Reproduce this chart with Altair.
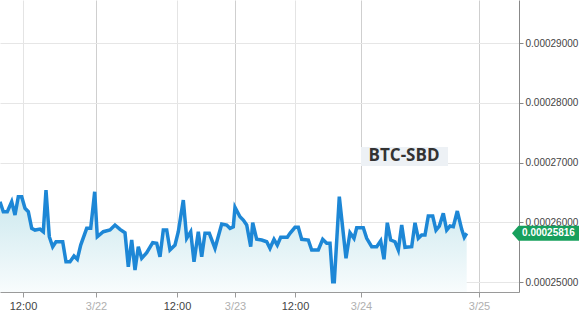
import altair as alt
import pandas as pd

# time position (chart index units) and BTC-SBD price
t = [0, 3.3, 7.3, 11.7, 15, 18.3, 21.7, 25, 28.3, 31.7, 35, 40, 43.3, 46, 49.3, 52.7, 56, 62.7, 66, 70,
     74, 77.3, 80.7, 86.7, 90.7, 94.7, 97.3, 103.3, 110, 115, 120, 125, 128.3, 131.7, 135, 138.3, 141.7, 146.7, 152.7, 156.7,
     160, 163.3, 166.7, 170, 175, 178.3, 183.3, 186.7, 190.7, 194, 198.3, 201.7, 205, 209.3, 215, 221.7, 226.7, 230, 233.3, 235,
     240, 243.3, 246.7, 250.7, 252.7, 256.7, 261.7, 266.7, 270, 274, 277.3, 280.7, 287.3, 290, 295, 298.3, 301.7, 308.3, 311.7, 318.3,
     322.7, 326.7, 330, 332.7, 334.3, 339.3, 346, 350, 354, 356.7, 363.3, 366.7, 371.7, 376.7, 380.7, 384, 387.3, 390.7, 395, 398.3,
     401.7, 405, 411.7, 415, 418.3, 421.7, 425, 428.3, 432.7, 436, 439.3, 443.3, 446.7, 450, 453.3, 457.3, 461.7, 464.3, 466.7]
price = [0.00026344, 0.00026177, 0.00026177, 0.00026344, 0.00026121, 0.00026428, 0.00026428, 0.00026233, 0.00026177, 0.00025899,
         0.00025870, 0.00025887, 0.00025842, 0.00026540, 0.00025758, 0.00025591, 0.00025674, 0.00025674, 0.00025340, 0.00025340,
         0.00025435, 0.00025380, 0.00025619, 0.00025899, 0.00025899, 0.00026511, 0.00025758, 0.00025842, 0.00025870, 0.00025954,
         0.00025882, 0.00025825, 0.00025256, 0.00025703, 0.00025201, 0.00025591, 0.00025397, 0.00025490, 0.00025658, 0.00025648,
         0.00025423, 0.00025870, 0.00025870, 0.00025536, 0.00025619, 0.00025842, 0.00026372, 0.00025731, 0.00025842, 0.00025340,
         0.00025842, 0.00025423, 0.00025815, 0.00025815, 0.00025564, 0.00025971, 0.00025954, 0.00025899, 0.00025925, 0.00026250,
         0.00026093, 0.00026038, 0.00025954, 0.00025591, 0.00025992, 0.00025715, 0.00025703, 0.00025674, 0.00025564, 0.00025715,
         0.00025619, 0.00025748, 0.00025748, 0.00025815, 0.00025915, 0.00025915, 0.00025715, 0.00025703, 0.00025536, 0.00025536,
         0.00025715, 0.00025648, 0.00025648, 0.00025005, 0.00025005, 0.00026428, 0.00025397, 0.00025825, 0.00025731, 0.00025909,
         0.00025909, 0.00025731, 0.00025591, 0.00025591, 0.00025691, 0.00025380, 0.00025992, 0.00025703, 0.00025674, 0.00025536,
         0.00025954, 0.00025581, 0.00025591, 0.00025992, 0.00025731, 0.00025787, 0.00025787, 0.00026105, 0.00026105, 0.00025870,
         0.00025937, 0.00026150, 0.00025870, 0.00025937, 0.00025925, 0.00026188, 0.00025882, 0.00025748, 0.00025816]

x_ticks = [23, 96, 177, 235, 295, 361, 479]
x_labels = ["12:00", "3/22", "12:00", "3/23", "12:00", "3/24", "3/25"]
date_ticks = [96, 235, 361, 479]
y_ticks = [0.00025, 0.00026, 0.00027, 0.00028, 0.00029]
last_price = 0.00025816
pair = "BTC-SBD"

X_DOMAIN = [0, 519]
Y_DOMAIN = [0.00024833, 0.0002972]

df = pd.DataFrame({"t": t, "price": price})
df_last = pd.DataFrame({"price": [last_price], "label": [f"{last_price:.8f}"]})
df_pair = pd.DataFrame({"name": [pair]})

label_expr = "".join(
    f"datum.value == {p} ? '{l}' : " for p, l in zip(x_ticks, x_labels)
) + "''"
date_test = "indexof([" + ",".join(str(d) for d in date_ticks) + "], datum.value) >= 0"

FONT = "Liberation Sans"

x_enc = alt.X(
    "t:Q",
    scale=alt.Scale(domain=X_DOMAIN, nice=False, zero=False),
    axis=alt.Axis(
        values=x_ticks, labelExpr=label_expr, title=None, grid=True,
        gridColor={"condition": {"test": date_test, "value": "#cfcfcf"}, "value": "#e4e4e4"},
        labelColor={"condition": {"test": date_test, "value": "#b0b0b0"}, "value": "#444444"},
        domainColor="#9a9a9a", tickColor="#9a9a9a", tickSize=5, labelPadding=3,
        labelFontSize=11, labelFont=FONT, labelAngle=0, labelFlush=False, labelOverlap=False,
    ),
)
y_enc = alt.Y(
    "price:Q",
    scale=alt.Scale(domain=Y_DOMAIN, nice=False, zero=False),
    axis=alt.Axis(
        orient="right", values=y_ticks, format=".8f", title=None,
        gridColor="#e6e6e6", domainColor="#888888", tickColor="#888888",
        tickSize=4, labelPadding=2, labelFontSize=10, labelColor="#444444", labelFont=FONT,
    ),
)

area = alt.Chart(df).mark_area(
    clip=True,
    color=alt.Gradient(
        gradient="linear",
        stops=[alt.GradientStop(color="#c9e7ed", offset=0),
               alt.GradientStop(color="#f8fcfd", offset=1)],
        x1=1, x2=1, y1=0, y2=1,
    ),
).encode(x=x_enc, y=y_enc, y2=alt.datum(Y_DOMAIN[0]))

line = alt.Chart(df).mark_line(clip=True, color="#1d87d6", strokeWidth=3.5, strokeJoin="miter").encode(
    x="t:Q", y="price:Q"
)

tag = alt.Chart(df_last).mark_point(
    shape="M -1 0 L -0.824 -0.203 L 1 -0.203 L 1 0.203 L -0.824 0.203 Z",
    size=74 * 74, filled=True, color="#17a05d", opacity=1, strokeWidth=0,
).encode(x=alt.value(549), y="price:Q")

tag_text = alt.Chart(df_last).mark_text(
    color="white", fontSize=10, font=FONT, fontWeight="bold", align="center", baseline="middle",
).encode(x=alt.value(548.5), y="price:Q", text="label:N")

pair_bg = alt.Chart(df_pair).mark_rect(color="#edf1f5").encode(
    x=alt.value(361), x2=alt.value(448), y=alt.value(147), y2=alt.value(166)
)
pair_text = alt.Chart(df_pair).mark_text(
    fontSize=17, fontWeight="bold", font="Open Sans", color="#333333", align="center", baseline="middle",
).encode(x=alt.value(404), y=alt.value(156), text="name:N")

chart = alt.layer(area, line, tag, tag_text, pair_bg, pair_text).properties(
    width=519, height=292,
    autosize=alt.AutoSizeParams(type="none"),
    padding={"left": 0, "top": 0, "right": 60, "bottom": 22},
    background="white",
).configure_view(stroke=None)

chart.save("out.html", embed_options={"renderer": "svg", "actions": False})
